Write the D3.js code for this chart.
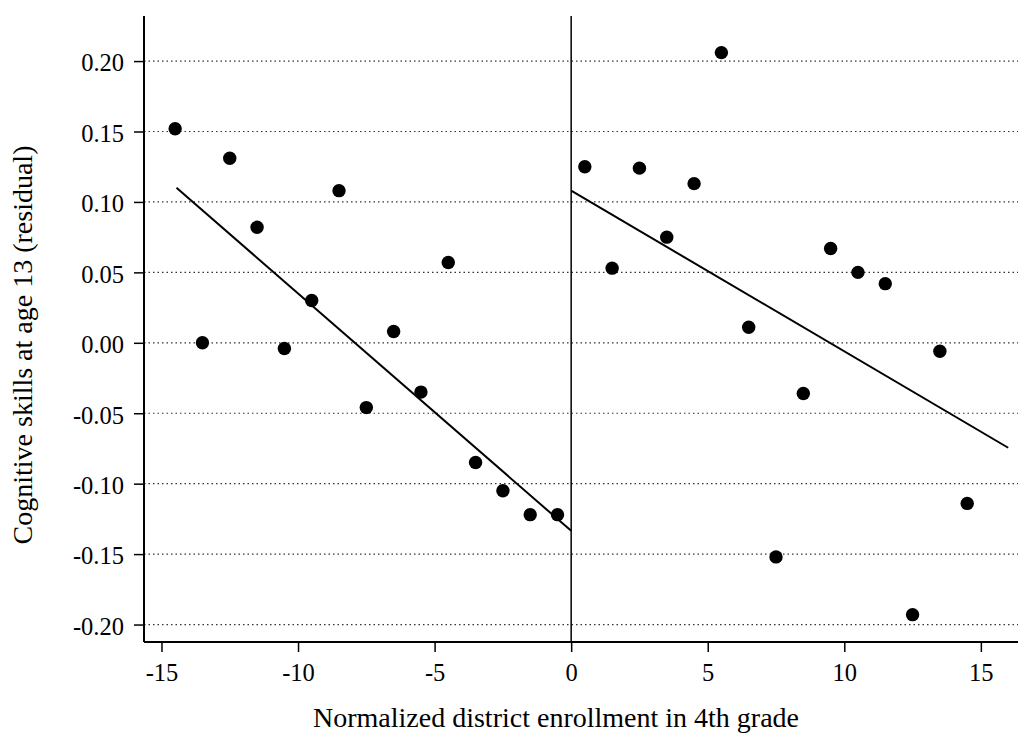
<!DOCTYPE html>
<html><head><meta charset="utf-8">
<script src="https://cdn.jsdelivr.net/npm/d3@7"></script>
<style>body{margin:0;background:#fff}svg{display:block}text{font-family:"Liberation Serif","Times New Roman",serif;fill:#000}</style>
</head><body><svg id="c" width="1018" height="734"></svg>
<script>
const xLeft = [-14.5,-13.5,-12.5,-11.5,-10.5,-9.5,-8.5,-7.5,-6.5,-5.5,-4.5,-3.5,-2.5,-1.5,-0.5];
const yLeft = [0.152,0.000,0.131,0.082,-0.004,0.030,0.108,-0.046,0.008,-0.035,0.057,-0.085,-0.105,-0.122,-0.122];
const xRight = [0.5,1.5,2.5,3.5,4.5,5.5,6.5,7.5,8.5,9.5,10.5,11.5,12.5,13.5,14.5];
const yRight = [0.125,0.053,0.124,0.075,0.113,0.206,0.011,-0.152,-0.036,0.067,0.050,0.042,-0.193,-0.006,-0.114];
const fitLeft = [[-14.45,0.110],[0,-0.1335]];
const fitRight = [[0,0.108],[16,-0.0745]];
const yTicks = [0.20,0.15,0.10,0.05,0.00,-0.05,-0.10,-0.15,-0.20];
const xTicks = [-15,-10,-5,0,5,10,15];
const xTitle = "Normalized district enrollment in 4th grade";
const yTitle = "Cognitive skills at age 13 (residual)";

const svg = d3.select("#c");
const L = 144, R = 1018, T = 16, B = 642;
const x = d3.scaleLinear().domain([-15.64, 16.36]).range([L, R]);
const y = d3.scaleLinear().domain([-0.2124, 0.232]).range([B, T]);
const fy = d => d3.format(".2f")(d).replace("\u2212", "-");
const fx = d => String(d);

// gridlines
svg.append("g").selectAll("line").data(yTicks).join("line")
  .attr("x1", L).attr("x2", R).attr("y1", d => y(d)).attr("y2", d => y(d))
  .attr("stroke", "#333").attr("stroke-width", 1.2).attr("stroke-dasharray", "1.5,3");

// y axis
const ya = svg.append("g").attr("transform", `translate(${L},0)`)
  .call(d3.axisLeft(y).tickValues(yTicks).tickFormat(fy).tickSize(10).tickPadding(10));
ya.select(".domain").attr("d", `M0,${T}V${B}`).attr("stroke-width", 2);
ya.selectAll(".tick line").attr("stroke-width", 1.5);
ya.selectAll("text").attr("font-size", 24.5).attr("font-family", "Liberation Serif").attr("dy", "0.4em");

// x axis
const xa = svg.append("g").attr("transform", `translate(0,${B})`)
  .call(d3.axisBottom(x).tickValues(xTicks).tickFormat(fx).tickSize(10));
xa.select(".domain").attr("d", `M${L},0H${R}`).attr("stroke-width", 2);
xa.selectAll(".tick line").attr("stroke-width", 1.5);
xa.selectAll("text").attr("font-size", 24.5).attr("font-family", "Liberation Serif").attr("y", 39).attr("dy", "0");

// cutoff line
svg.append("line").attr("x1", x(0)).attr("x2", x(0)).attr("y1", T).attr("y2", B)
  .attr("stroke", "#000").attr("stroke-width", 1.5);

// fit lines
const line = d3.line().x(d => x(d[0])).y(d => y(d[1]));
[fitLeft, fitRight].forEach(f => svg.append("path").attr("d", line(f))
  .attr("fill", "none").attr("stroke", "#000").attr("stroke-width", 2));

// points
const pts = xLeft.map((v,i)=>[v,yLeft[i]]).concat(xRight.map((v,i)=>[v,yRight[i]]));
svg.append("g").selectAll("circle").data(pts).join("circle")
  .attr("cx", d => x(d[0])).attr("cy", d => y(d[1])).attr("r", 6.7).attr("fill", "#000");

// titles
svg.append("text").attr("x", 556).attr("y", 727).attr("text-anchor", "middle")
  .attr("font-size", 28).text(xTitle);
svg.append("text").attr("transform", `translate(32,345) rotate(-90)`).attr("text-anchor", "middle")
  .attr("font-size", 28).text(yTitle);
</script></body></html>
